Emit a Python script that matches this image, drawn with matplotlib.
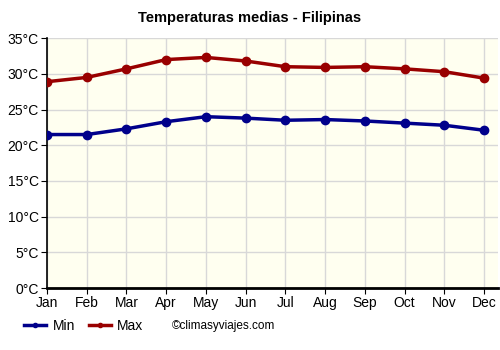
import matplotlib.pyplot as plt
from matplotlib.lines import Line2D

plt.rcParams["font.family"] = ["Liberation Sans", "DejaVu Sans"]

months = ["Jan", "Feb", "Mar", "Apr", "May", "Jun", "Jul", "Aug", "Sep", "Oct", "Nov", "Dec"]
t_min = [21.5, 21.5, 22.3, 23.3, 24.0, 23.8, 23.5, 23.6, 23.4, 23.1, 22.8, 22.1]
t_max = [28.9, 29.5, 30.7, 32.0, 32.3, 31.8, 31.0, 30.9, 31.0, 30.7, 30.3, 29.4]
y_ticks = [0, 5, 10, 15, 20, 25, 30, 35]

blue = "#00008b"
red = "#990000"

fig = plt.figure(figsize=(5, 3.5), dpi=100)
ax = fig.add_axes([0.094, 0.177, 0.902, 0.714])
ax.set_facecolor("#fffff0")

x = list(range(len(months)))
ax.plot(x, t_min, color=blue, lw=2.5, marker="o", ms=6, zorder=3)
ax.plot(x, t_max, color=red, lw=2.5, marker="o", ms=6, zorder=3)

ax.set_xlim(0, 11.35)
ax.set_ylim(0, 35)
ax.set_xticks(x)
ax.set_xticklabels(months, fontsize=10)
ax.set_yticks(y_ticks)
ax.set_yticklabels([f"{v}°C" for v in y_ticks], fontsize=10)
ax.grid(color="#d8d8d8", lw=1)
ax.set_axisbelow(True)
for s in ["top", "right"]:
    ax.spines[s].set_visible(False)
ax.spines["left"].set_linewidth(1.2)
ax.spines["bottom"].set_linewidth(2)
ax.tick_params(length=4, pad=2)

fig.text(0.5, 0.948, "Temperaturas medias - Filipinas", ha="center", va="center",
         fontsize=10.5, fontweight="bold")

handles = [
    Line2D([], [], color=blue, lw=2.5, marker="o", ms=3),
    Line2D([], [], color=red, lw=2.5, marker="o", ms=3),
]
fig.legend(handles, ["Min", "Max"], loc="center left", bbox_to_anchor=(0.023, 0.069),
           ncol=2, frameon=False, fontsize=10, handlelength=1.6, columnspacing=1.0,
           handletextpad=0.45)
fig.text(0.343, 0.069, "©climasyviajes.com", ha="left", va="center", fontsize=8.5)

fig.savefig("out.png", dpi=100)
